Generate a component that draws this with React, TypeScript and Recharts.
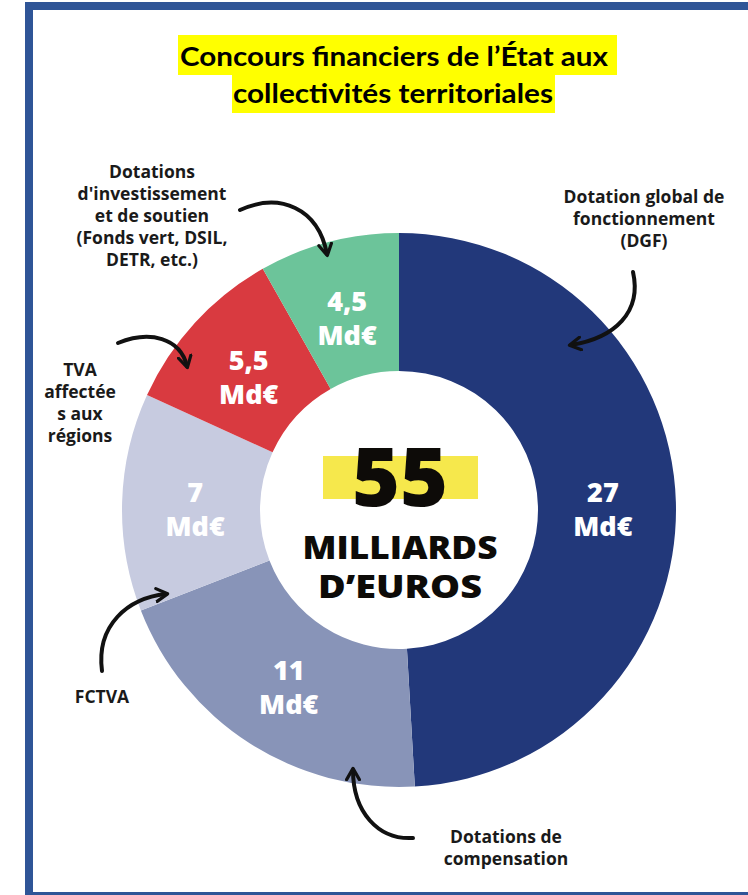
import React from "react";
import { PieChart, Pie, Cell } from "recharts";

const categories = [
  "Dotation global de fonctionnement (DGF)",
  "Dotations de compensation",
  "FCTVA",
  "TVA affectée aux régions",
  "Dotations d'investissement et de soutien",
];
const values = [27, 11, 7, 5.5, 4.5];
const valueLabels = ["27", "11", "7", "5,5", "4,5"];
const colors = ["#22387a", "#8894b8", "#c7cbe0", "#d93a40", "#6cc49a"];

const totalLabel = "55";
const unitLabel = "Md€";

const data = categories.map((name, i) => ({
  name,
  value: values[i],
  label: valueLabels[i],
  color: colors[i],
}));

const FONT = "'Open Sans', 'DejaVu Sans', sans-serif";
const RADIAN = Math.PI / 180;

const renderLabel = (props: any) => {
  const { cx, cy, midAngle, innerRadius, outerRadius, index } = props;
  const r = (innerRadius + outerRadius) / 2 - 4;
  const x = cx + r * Math.cos(-midAngle * RADIAN);
  const y = cy + r * Math.sin(-midAngle * RADIAN);
  return (
    <text
      x={x}
      y={y}
      textAnchor="middle"
      fill="#fff"
      fontFamily={FONT}
      fontWeight={800}
      fontSize={27}
    >
      <tspan x={x} dy={-2}>
        {data[index].label}
      </tspan>
      <tspan x={x} dy={34}>
        {unitLabel}
      </tspan>
    </text>
  );
};

const Note = ({ x, y, lines }: { x: number; y: number; lines: string[] }) => (
  <text
    x={x}
    y={y}
    textAnchor="middle"
    fill="#1a1a1a"
    fontFamily={FONT}
    fontWeight={700}
    fontSize={17.5}
  >
    {lines.map((l, i) => (
      <tspan key={i} x={x} dy={i === 0 ? 0 : 22}>
        {l}
      </tspan>
    ))}
  </text>
);

const Arrow = ({ d }: { d: string }) => (
  <path
    d={d}
    fill="none"
    stroke="#111"
    strokeWidth={4}
    strokeLinecap="round"
    markerEnd="url(#head)"
  />
);

const App = () => {
  return (
    <div
      style={{
        position: "absolute",
        left: 0,
        top: 0,
        width: 748,
        height: 895,
        overflow: "hidden",
        background: "#fff",
      }}
    >
      <PieChart width={748} height={895} margin={{ top: 0, right: 0, left: 0, bottom: 0 }}>
        <Pie
          data={data}
          dataKey="value"
          nameKey="name"
          cx={399}
          cy={510}
          innerRadius={139}
          outerRadius={277}
          startAngle={90}
          endAngle={-270}
          stroke="none"
          label={renderLabel}
          labelLine={false}
          isAnimationActive={false}
        >
          {data.map((entry, index) => (
            <Cell key={`cell-${index}`} fill={entry.color} />
          ))}
        </Pie>
      </PieChart>

      <svg
        width={748}
        height={895}
        style={{ position: "absolute", left: 0, top: 0, pointerEvents: "none" }}
      >
        <defs>
          <marker
            id="head"
            viewBox="0 0 10 10"
            refX={7}
            refY={5}
            markerWidth={4}
            markerHeight={4}
            orient="auto"
          >
            <path d="M1,1 L8,5 L1,9" fill="none" stroke="#111" strokeWidth={2} strokeLinecap="round" strokeLinejoin="round" />
          </marker>
        </defs>

        <rect x={29} y={6} width={740} height={890} fill="none" stroke="#2f5597" strokeWidth={8} />

        <rect x={178} y={35} width={439} height={40} fill="#ffff00" />
        <rect x={232} y={75} width={323} height={38} fill="#ffff00" />
        <text
          x={394}
          y={66}
          textAnchor="middle"
          fontFamily="Lato, 'Open Sans', sans-serif"
          fontWeight={700}
          fontSize={27}
          textLength={428}
          lengthAdjust="spacingAndGlyphs"
          fill="#000"
        >
          Concours financiers de l’État aux
        </text>
        <text
          x={393}
          y={103}
          textAnchor="middle"
          fontFamily="Lato, 'Open Sans', sans-serif"
          fontWeight={700}
          fontSize={27}
          textLength={320}
          lengthAdjust="spacingAndGlyphs"
          fill="#000"
        >
          collectivités territoriales
        </text>

        <rect x={323} y={456} width={155} height={43} fill="#f6e84c" />
        <text
          x={400}
          y={506}
          textAnchor="middle"
          fontFamily={FONT}
          fontWeight={800}
          fontSize={82}
          fill="#0d0b08"
        >
          {totalLabel}
        </text>
        <text
          x={400}
          y={559}
          textAnchor="middle"
          fontFamily={FONT}
          fontWeight={800}
          fontSize={31}
          textLength={195}
          lengthAdjust="spacingAndGlyphs"
          fill="#0d0b08"
        >
          MILLIARDS
        </text>
        <text
          x={400}
          y={598}
          textAnchor="middle"
          fontFamily={FONT}
          fontWeight={800}
          fontSize={31}
          textLength={164}
          lengthAdjust="spacingAndGlyphs"
          fill="#0d0b08"
        >
          D’EUROS
        </text>

        <Note x={152} y={178} lines={["Dotations", "d'investissement", "et de soutien", "(Fonds vert, DSIL,", "DETR, etc.)"]} />
        <Note x={644} y={203} lines={["Dotation global de", "fonctionnement", "(DGF)"]} />
        <Note x={80} y={376} lines={["TVA", "affectée", "s aux", "régions"]} />
        <Note x={102} y={703} lines={["FCTVA"]} />
        <Note x={506} y={843} lines={["Dotations de", "compensation"]} />

        <Arrow d="M240,210 C280,192 318,208 327,254" />
        <Arrow d="M633,272 C642,312 615,338 571,345" />
        <Arrow d="M118,343 C150,330 180,338 187,366" />
        <Arrow d="M102,671 C96,625 128,598 166,594" />
        <Arrow d="M413,838 C378,840 353,812 353,770" />
      </svg>
    </div>
  );
};

export default App;
